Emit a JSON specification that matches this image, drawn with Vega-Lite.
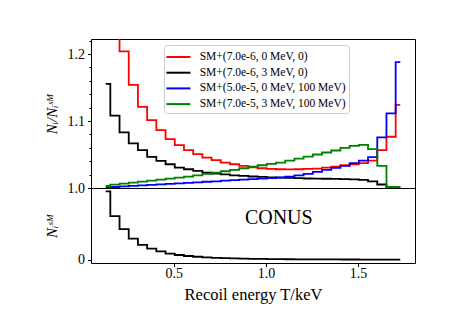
{
  "$schema": "https://vega.github.io/schema/vega-lite/v6.json",
  "padding": {"left": 43, "top": 38, "right": 5, "bottom": 5},
  "background": "white",
  "spacing": 0,
  "bounds": "flush",
  "datasets": {
    "spec": [
      {"T": 0.13, "A": 1.35, "B": 1.1555, "C": 1.0008, "D": 1.003, "N": 1.0},
      {"T": 0.18, "A": 1.26, "B": 1.108, "C": 1.0015, "D": 1.005, "N": 0.64},
      {"T": 0.23, "A": 1.204, "B": 1.083, "C": 1.0025, "D": 1.0065, "N": 0.45},
      {"T": 0.28, "A": 1.154, "B": 1.0665, "C": 1.0033, "D": 1.008, "N": 0.31},
      {"T": 0.33, "A": 1.121, "B": 1.0565, "C": 1.004, "D": 1.0095, "N": 0.22},
      {"T": 0.38, "A": 1.1015, "B": 1.0465, "C": 1.0048, "D": 1.011, "N": 0.165},
      {"T": 0.43, "A": 1.0865, "B": 1.0405, "C": 1.0055, "D": 1.0125, "N": 0.125},
      {"T": 0.48, "A": 1.073, "B": 1.0355, "C": 1.0063, "D": 1.014, "N": 0.092},
      {"T": 0.53, "A": 1.064, "B": 1.0305, "C": 1.007, "D": 1.0155, "N": 0.072},
      {"T": 0.58, "A": 1.0565, "B": 1.028, "C": 1.0078, "D": 1.017, "N": 0.057},
      {"T": 0.63, "A": 1.0505, "B": 1.0255, "C": 1.0085, "D": 1.019, "N": 0.046},
      {"T": 0.68, "A": 1.0455, "B": 1.023, "C": 1.0093, "D": 1.021, "N": 0.038},
      {"T": 0.73, "A": 1.0415, "B": 1.0215, "C": 1.01, "D": 1.023, "N": 0.031},
      {"T": 0.78, "A": 1.038, "B": 1.0202, "C": 1.011, "D": 1.025, "N": 0.026},
      {"T": 0.83, "A": 1.0355, "B": 1.019, "C": 1.0118, "D": 1.027, "N": 0.022},
      {"T": 0.88, "A": 1.033, "B": 1.018, "C": 1.0125, "D": 1.0295, "N": 0.019},
      {"T": 0.93, "A": 1.031, "B": 1.0172, "C": 1.0133, "D": 1.032, "N": 0.016},
      {"T": 0.98, "A": 1.0295, "B": 1.0165, "C": 1.014, "D": 1.034, "N": 0.014},
      {"T": 1.03, "A": 1.0285, "B": 1.016, "C": 1.0148, "D": 1.036, "N": 0.0125},
      {"T": 1.08, "A": 1.028, "B": 1.0155, "C": 1.0157, "D": 1.038, "N": 0.011},
      {"T": 1.13, "A": 1.0278, "B": 1.015, "C": 1.017, "D": 1.041, "N": 0.01},
      {"T": 1.18, "A": 1.028, "B": 1.0146, "C": 1.019, "D": 1.044, "N": 0.009},
      {"T": 1.23, "A": 1.0285, "B": 1.0142, "C": 1.021, "D": 1.047, "N": 0.0083},
      {"T": 1.28, "A": 1.029, "B": 1.014, "C": 1.024, "D": 1.05, "N": 0.0077},
      {"T": 1.33, "A": 1.0305, "B": 1.0138, "C": 1.027, "D": 1.053, "N": 0.0071},
      {"T": 1.38, "A": 1.032, "B": 1.0135, "C": 1.03, "D": 1.056, "N": 0.0066},
      {"T": 1.43, "A": 1.034, "B": 1.0133, "C": 1.033, "D": 1.06, "N": 0.0062},
      {"T": 1.48, "A": 1.0355, "B": 1.013, "C": 1.037, "D": 1.063, "N": 0.0058},
      {"T": 1.53, "A": 1.037, "B": 1.012, "C": 1.041, "D": 1.0645, "N": 0.0055},
      {"T": 1.58, "A": 1.041, "B": 1.01, "C": 1.046, "D": 1.058, "N": 0.0052},
      {"T": 1.63, "A": 1.0565, "B": 1.0052, "C": 1.0755, "D": 1.033, "N": 0.005},
      {"T": 1.68, "A": 1.0765, "B": 1.0015, "C": 1.1115, "D": 1.0015, "N": 0.0048},
      {"T": 1.73, "A": 1.124, "B": 1.0015, "C": 1.188, "D": 1.0015, "N": 0.0046}
    ],
    "note": [{"T": 1.07, "y": 0.61, "label": "CONUS"}]
  },
  "config": {
    "font": "Liberation Serif",
    "view": {"stroke": "black", "strokeWidth": 1},
    "axis": {
      "domain": false, "grid": false, "tickColor": "black", "labelColor": "black", "titleColor": "black",
      "labelFont": "Liberation Serif", "titleFont": "Liberation Serif", "labelFontSize": 14, "titleFontSize": 15,
      "titleFontWeight": "normal", "tickSize": 3.5, "labelPadding": 3
    }
  },
  "vconcat": [
    {
      "width": 324, "height": 149,
      "data": {"name": "spec"},
      "transform": [{"fold": ["A", "B", "C", "D"], "as": ["series", "ratio"]}],
      "mark": {"type": "line", "interpolate": "step", "clip": true, "strokeWidth": 1.8},
      "encoding": {
        "x": {"field": "T", "type": "quantitative", "scale": {"domain": [0.05, 1.81], "nice": false, "zero": false}, "axis": null},
        "y": {
          "field": "ratio", "type": "quantitative",
          "scale": {"domain": [1.0, 1.2225], "nice": false, "zero": false},
          "axis": {
            "values": [1.0, 1.02, 1.04, 1.06, 1.08, 1.1, 1.12, 1.14, 1.16, 1.18, 1.2, 1.22],
            "labelExpr": "abs(datum.value*10 - round(datum.value*10)) < 0.01 ? format(datum.value, '.1f') : ''",
            "tickSize": {"condition": {"test": "abs(datum.value*10 - round(datum.value*10)) < 0.01", "value": 3.5}, "value": 2},
            "title": "Nᵢ/Nᵢˢᴹ", "titleFontStyle": "italic", "titlePadding": 8
          }
        },
        "color": {
          "field": "series", "type": "nominal",
          "scale": {"domain": ["A", "B", "C", "D"], "range": ["#ff0000", "#000000", "#0000ff", "#008000"]},
          "legend": {
            "orient": "none", "legendX": 73, "legendY": 6, "title": null,
            "labelExpr": "datum.value == 'A' ? 'SM+(7.0e-6, 0 MeV, 0)' : datum.value == 'B' ? 'SM+(7.0e-6, 3 MeV, 0)' : datum.value == 'C' ? 'SM+(5.0e-5, 0 MeV, 100 MeV)' : 'SM+(7.0e-5, 3 MeV, 100 MeV)'",
            "symbolType": "M-1.2,0H1.8", "symbolSize": 256, "symbolStrokeWidth": 2,
            "labelFontSize": 11.5, "labelFont": "Liberation Serif", "labelColor": "black", "labelOffset": 14.7,
            "rowPadding": 0.7, "padding": 3, "fillColor": "white", "strokeColor": "#cccccc", "cornerRadius": 3
          }
        }
      }
    },
    {
      "width": 324, "height": 75,
      "layer": [
        {
          "data": {"name": "spec"},
          "mark": {"type": "line", "interpolate": "step", "color": "black", "strokeWidth": 1.8},
          "encoding": {
            "x": {
              "field": "T", "type": "quantitative", "scale": {"domain": [0.05, 1.81], "nice": false, "zero": false},
              "axis": {"values": [0.5, 1.0, 1.5], "format": ".1f", "title": "Recoil energy T/keV", "titleFontSize": 16.5, "titlePadding": 6, "labelPadding": 0}
            },
            "y": {
              "field": "N", "type": "quantitative", "scale": {"domain": [-0.045, 1.05], "nice": false, "zero": false},
              "axis": {"values": [0], "format": "d", "title": "Nᵢˢᴹ", "titleFontStyle": "italic", "titlePadding": 18}
            }
          }
        },
        {
          "data": {"name": "note"},
          "mark": {"type": "text", "fontSize": 20, "font": "Liberation Serif", "color": "black"},
          "encoding": {
            "x": {"field": "T", "type": "quantitative"},
            "y": {"field": "y", "type": "quantitative"},
            "text": {"field": "label"}
          }
        }
      ]
    }
  ]
}
